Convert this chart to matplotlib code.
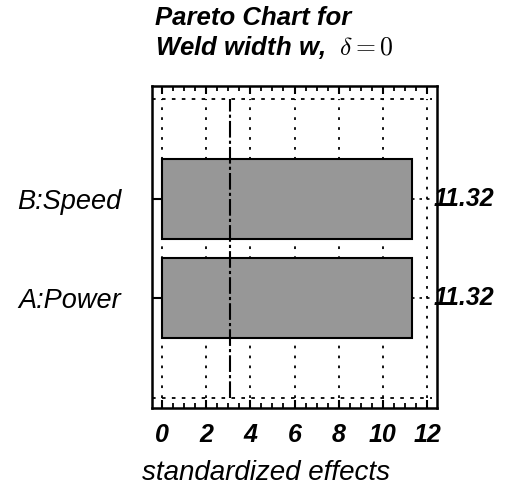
import matplotlib.pyplot as plt
from matplotlib.ticker import MultipleLocator

plt.rcParams['font.family'] = ['Liberation Sans', 'DejaVu Sans']
plt.rcParams['mathtext.fontset'] = 'cm'

# Data
factors = ['A:Power', 'B:Speed']
effects = [11.32, 11.32]
effect_labels = ['11.32', '11.32']
ref_value = 3.1
xticks = [0, 2, 4, 6, 8, 10, 12]

W, H = 512, 488
fig = plt.figure(figsize=(W / 100, H / 100), dpi=100)
ax = fig.add_axes([152 / W, 1 - 408 / H, 285 / W, 322 / H])

ypos = list(range(len(factors)))
ax.barh(ypos, effects, height=0.81, color='#979797', edgecolor='black', linewidth=1.5, zorder=3)

# dotted grid box
y_lo, y_hi = -1.01, 2.01
for xt in xticks:
    ax.vlines(xt, y_lo, y_hi, colors='black', linestyles=(0, (1.5, 4)), linewidth=1.3, zorder=1)
ax.hlines([y_lo, y_hi], -0.45, 12.23, colors='black', linestyles=(0, (2, 3.5)), linewidth=1.3, zorder=1)

# reference line
ax.vlines(ref_value, y_lo, y_hi, colors='black', linestyles=(0, (8, 1.5, 1.5, 1.5)), linewidth=1.5, zorder=4)

# value labels with dotted leaders
for y, v, lab in zip(ypos, effects, effect_labels):
    ax.plot([v, 12.3], [y, y], color='black', linestyle=(0, (1.5, 3)), linewidth=1.2, clip_on=False, zorder=2)
    ax.text(12.3, y, lab, ha='left', va='center', fontsize=18, fontstyle='italic', fontweight='bold',
            clip_on=False, zorder=5)

ax.set_xlim(-0.45, 12.45)
ax.set_ylim(-1.11, 2.14)
ax.set_xticks(xticks)
ax.xaxis.set_minor_locator(MultipleLocator(0.5))
ax.set_yticks(ypos)
ax.set_yticklabels(factors, fontsize=19.5, fontstyle='italic')
ax.set_xticklabels([str(t) for t in xticks], fontsize=18, fontstyle='italic', fontweight='bold')

ax.tick_params(axis='x', which='major', direction='in', length=6, width=1.5, top=True, pad=11)
ax.tick_params(axis='x', which='minor', direction='in', length=3.5, width=1.3, top=True)
ax.tick_params(axis='y', direction='in', length=7.5, width=1.5, pad=22)
for s in ax.spines.values():
    s.set_linewidth(1.8)

fig.text(142 / W, 1 - 480 / H, 'standardized effects', fontsize=20, fontstyle='italic',
         ha='left', va='baseline')

fig.text(155 / W, 1 - 25 / H, 'Pareto Chart for', fontsize=18.5, fontstyle='italic',
         fontweight='bold', ha='left', va='baseline')
fig.text(155 / W, 1 - 55 / H, r'Weld width w,  $\delta = 0$', fontsize=18.5, fontstyle='italic',
         fontweight='bold', ha='left', va='baseline')

fig.savefig('out.png', dpi=100)
